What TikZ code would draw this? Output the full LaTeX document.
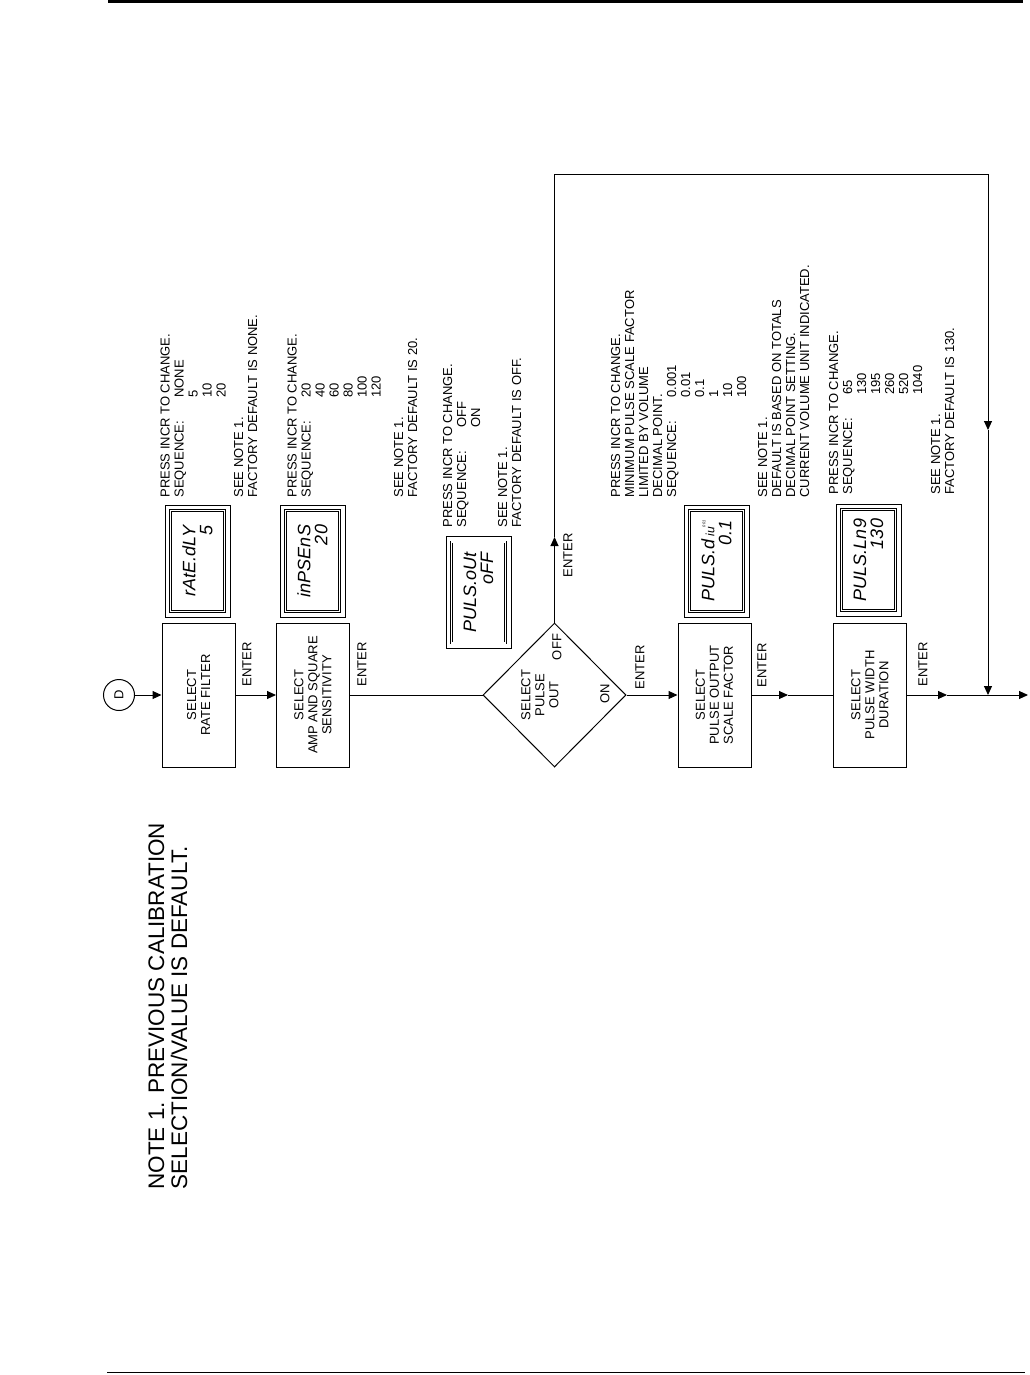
\documentclass[tikz,border=0pt]{standalone}
\usepackage{fontspec}
\setmainfont{Liberation Sans}
\usetikzlibrary{arrows.meta,positioning,shapes.geometric}

\newcommand{\seqlbl}{\makebox[100pt][l]{SEQUENCE:}}
\newcommand{\valtab}{\hspace*{100pt}}

\begin{document}
\begin{tikzpicture}[x=1pt, y=-1pt, line width=1pt,
  box/.style={draw, rotate=90, minimum width=144pt, minimum height=73pt, align=center, inner sep=1pt, font=\fontsize{13}{14}\selectfont},
  decision/.style={draw, diamond, minimum width=143pt, minimum height=144pt, inner sep=0},
  lbl/.style={rotate=90, inner sep=0, font=\fontsize{13}{14}\selectfont},
  txt/.style={rotate=90, anchor=north west, align=left, inner sep=0, font=\fontsize{13}{14}\selectfont},
  lcd/.style={draw, line width=0.7pt, rotate=90, minimum width=112pt, minimum height=65pt, inner sep=0},
  lcdtxt/.style={draw, line width=0.6pt, double, double distance=1.2pt, rotate=90, minimum width=101pt, minimum height=54pt, inner sep=0, align=right, font=\fontsize{18}{17}\selectfont\itshape},
  arr/.style={-{Triangle[length=9pt, width=8pt]}}
]
\useasboundingbox (0,0) rectangle (1029,1375);
\fill[white] (0,0) rectangle (1029,1375);
\draw[line width=3pt] (108,1.5) -- (1023,1.5);
\draw[line width=1.5pt] (107,1372.5) -- (1025,1372.5);

% flow
\node[draw, circle, minimum size=31pt, inner sep=0, rotate=90, font=\fontsize{13}{14}\selectfont] (D) at (119,695) {D};
\node[box] (rate) at (198.5,695) {SELECT\\RATE FILTER};
\node[box] (sens) at (313,695) {SELECT\\AMP AND SQUARE\\SENSITIVITY};
\node[decision] (pout) at (554.5,695) {};
\node[lbl, align=center] (poutl) at (540,695) {SELECT\\PULSE\\OUT};
\node[box] (scale) at (714.5,695) {SELECT\\PULSE OUTPUT\\SCALE FACTOR};
\node[box] (width) at (870,695) {SELECT\\PULSE WIDTH\\DURATION};

\coordinate (up) at (554.5,537);
\coordinate (tl) at (554.5,175);
\coordinate (tr) at (988,175);
\coordinate (dn) at (988,430);
\coordinate (join) at (988,695);
\coordinate (mid1) at (788,695);
\coordinate (mid2) at (947,695);
\coordinate (out) at (1028,695);

\draw[arr] (D) -- (rate.north);
\draw[arr] (rate.south) -- (sens.north);
\draw (sens.south) -- (pout.west);
\draw[arr] (pout.east) -- (scale.north);
\draw[arr] (scale.south) -- (mid1);
\draw (mid1) -- (width.north);
\draw[arr] (width.south) -- (mid2);
\draw (mid2) -- (join);
\draw[arr] (join) -- (out);
\draw[arr] (pout.north) -- (up);
\draw[arr] (up) -- (tl) -- (tr) -- (dn);
\draw[arr] (dn) -- (join);

\node[lbl, anchor=west] (e1) at (247,687) {ENTER};
\node[lbl, anchor=west] (e2) at (362,687) {ENTER};
\node[lbl, anchor=west] (e3) at (568,578) {ENTER};
\node[lbl, anchor=west] (e4) at (640,690) {ENTER};
\node[lbl, anchor=west] (e5) at (762,688) {ENTER};
\node[lbl, anchor=west] (e6) at (923,687) {ENTER};
\node[lbl] (off) at (557,647) {OFF};
\node[lbl] (on) at (605,694) {ON};

% displays
\node[lcd] (d1) at (197.5,561) {};
\node[lcdtxt] (d1t) at (d1) {rAtE.dLY\\5};
\node[lcd] (d2) at (312.5,561) {};
\node[lcdtxt] (d2t) at (d2) {inPSEnS\\20};
\node[lcd] (d3) at (478.5,592.5) {};
\node[lcdtxt] (d3t) at (d3) {PULS.oUt\\oFF};
\node[lcd] (d4) at (716.5,561) {};
\node[lcdtxt] (d4t) at (d4) {PULS.d\,{\fontsize{12}{12}\selectfont iu}\raisebox{9pt}{\fontsize{4}{4}\selectfont 001}\\0.1};
\node[lcd] (d5) at (868.5,560) {};
\node[lcdtxt] (d5t) at (d5) {PULS.Ln9\\130};

% notes
\node[txt] (t1) at (160,498) {PRESS INCR TO CHANGE.\\ \seqlbl NONE\\ \valtab 5\\ \valtab 10\\ \valtab 20};
\node[txt] (t1n) at (233.5,498) {SEE NOTE 1.\\FACTORY DEFAULT IS NONE.};
\node[txt] (t2) at (287,498) {PRESS INCR TO CHANGE.\\ \seqlbl 20\\ \valtab 40\\ \valtab 60\\ \valtab 80\\ \valtab 100\\ \valtab 120};
\node[txt] (t2n) at (393.5,498) {SEE NOTE 1.\\FACTORY DEFAULT IS 20.};
\node[txt] (t3) at (442.5,528) {PRESS INCR TO CHANGE.\\ \seqlbl OFF\\ \valtab ON};
\node[txt] (t3n) at (497.5,528) {SEE NOTE 1.\\FACTORY DEFAULT IS OFF.};
\node[txt] (t4) at (610.5,498) {PRESS INCR TO CHANGE.\\MINIMUM PULSE SCALE FACTOR\\LIMITED BY VOLUME\\DECIMAL POINT.\\ \seqlbl 0.001\\ \valtab 0.01\\ \valtab 0.1\\ \valtab 1\\ \valtab 10\\ \valtab 100};
\node[txt] (t4n) at (757.5,498) {SEE NOTE 1.\\DEFAULT IS BASED ON TOTALS\\DECIMAL POINT SETTING.\\CURRENT VOLUME UNIT INDICATED.};
\node[txt] (t5) at (828.5,495) {PRESS INCR TO CHANGE.\\ \seqlbl 65\\ \valtab 130\\ \valtab 195\\ \valtab 260\\ \valtab 520\\ \valtab 1040};
\node[txt] (t5n) at (930.5,495) {SEE NOTE 1.\\FACTORY DEFAULT IS 130.};

\node[txt, font=\fontsize{22.5}{23}\selectfont] (note) at (148,1190) {NOTE 1. PREVIOUS CALIBRATION\\SELECTION/VALUE IS DEFAULT.};
\end{tikzpicture}
\end{document}
